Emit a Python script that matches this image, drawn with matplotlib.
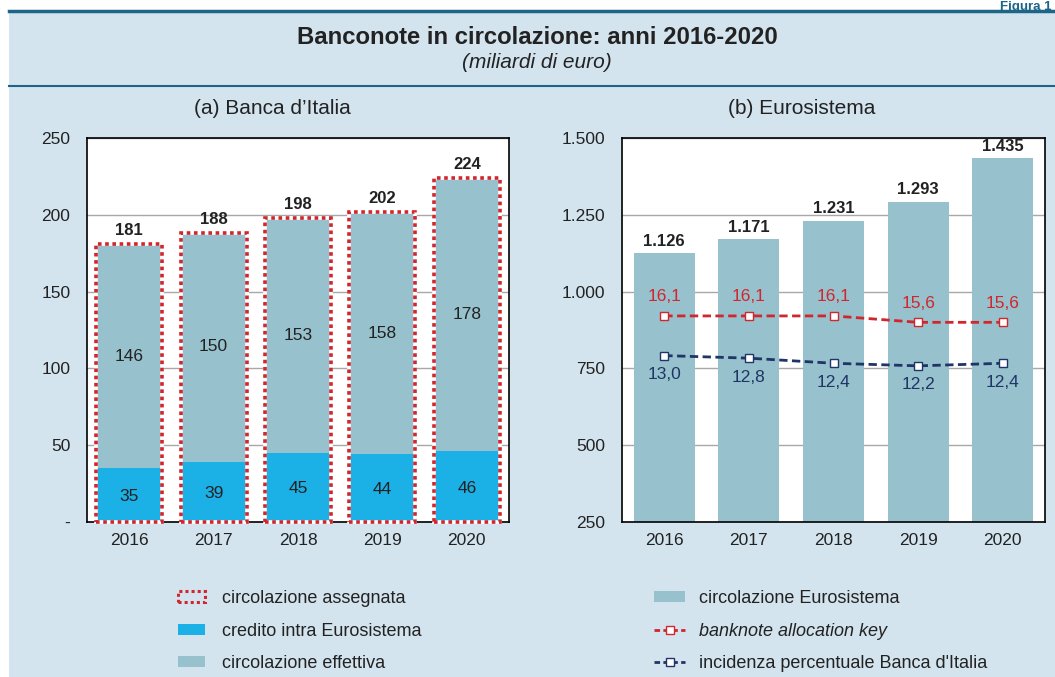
import numpy as np
import matplotlib.pyplot as plt
from matplotlib.patches import Patch, Rectangle
from matplotlib.lines import Line2D

plt.rcParams['font.family'] = ['Liberation Sans', 'DejaVu Sans']

# data
years = ['2016', '2017', '2018', '2019', '2020']
assegnata = [181, 188, 198, 202, 224]
credito = [35, 39, 45, 44, 46]
effettiva = [146, 150, 153, 158, 178]
euro_circ = [1126, 1171, 1231, 1293, 1435]
euro_circ_lbl = ['1.126', '1.171', '1.231', '1.293', '1.435']
alloc_key = [16.1, 16.1, 16.1, 15.6, 15.6]
incidenza = [13.0, 12.8, 12.4, 12.2, 12.4]

# colours
bg = '#d3e4ee'
c_eff = '#97c1cc'
c_cred = '#1bb0e6'
c_red = '#d0262d'
c_navy = '#1f3566'
c_txt = '#222222'
c_rule = '#1d6587'

W, H = 1055, 677
fig = plt.figure(figsize=(W / 100, H / 100), dpi=100, facecolor='white')

# light blue panel and rules
fig.patches.append(Rectangle((9 / W, 0), 1, 1 - 11 / H, transform=fig.transFigure,
                             facecolor=bg, edgecolor='none', zorder=-10))
fig.add_artist(Line2D([9 / W, 1], [1 - 11 / H] * 2, color=c_rule, lw=2.5, zorder=-5))
fig.add_artist(Line2D([9 / W, 1], [1 - 86 / H] * 2, color=c_rule, lw=1.5, zorder=-5))
fig.text(1 - 3 / W, 1 - 1 / H, 'Figura 1', ha='right', va='top', fontsize=9.5,
         fontweight='bold', color=c_rule)

fig.text(537 / W, 1 - 37 / H, 'Banconote in circolazione: anni 2016-2020', ha='center',
         va='center', fontsize=17.2, fontweight='bold', color=c_txt)
fig.text(537 / W, 1 - 63 / H, '(miliardi di euro)', ha='center', va='center',
         fontsize=15, style='italic', color=c_txt)

# panel titles
fig.text(272 / W, 1 - 108 / H, '(a) Banca d\u2019Italia', ha='center', va='center',
         fontsize=15, color=c_txt)
fig.text(802 / W, 1 - 108 / H, '(b) Eurosistema', ha='center', va='center',
         fontsize=15, color=c_txt)

x = np.arange(len(years))

# ---- panel (a)
ax1 = fig.add_axes([87 / W, 1 - 522 / H, 422 / W, 384 / H])
ax1.set_facecolor('white')
bw = 0.78
ax1.bar(x, credito, bw, color=c_cred, zorder=2)
ax1.bar(x, effettiva, bw, bottom=credito, color=c_eff, zorder=2)
ax1.bar(x, assegnata, bw, facecolor='none', edgecolor='white', lw=2.6, zorder=3, clip_on=False)
ax1.bar(x, assegnata, bw, facecolor='none', edgecolor=c_red, lw=2.6, linestyle=(0, (1, 1)),
        zorder=4, clip_on=False)
for i in range(len(years)):
    ax1.text(x[i], assegnata[i] + 4, str(assegnata[i]), ha='center', va='bottom',
             fontsize=12, fontweight='bold', color=c_txt)
    ax1.text(x[i], credito[i] / 2 - 1, str(credito[i]), ha='center', va='center',
             fontsize=12.5, color=c_txt)
    ax1.text(x[i], credito[i] + effettiva[i] / 2, str(effettiva[i]), ha='center',
             va='center', fontsize=12.5, color=c_txt)
ax1.set_ylim(0, 250)
ax1.set_xlim(-0.5, 4.5)
ax1.set_yticks(range(0, 251, 50))
ax1.set_yticklabels(['-', '50', '100', '150', '200', '250'])

# ---- panel (b)
ax2 = fig.add_axes([622 / W, 1 - 522 / H, 423 / W, 384 / H])
ax2.set_facecolor('white')
ax2.bar(x, euro_circ, 0.72, color=c_eff, zorder=2)
for i in range(len(years)):
    ax2.text(x[i], euro_circ[i] + 14, euro_circ_lbl[i], ha='center', va='bottom',
             fontsize=12, fontweight='bold', color=c_txt)
ax2.set_ylim(250, 1500)
ax2.set_xlim(-0.5, 4.5)
ax2.set_yticks(range(250, 1501, 250))
ax2.set_yticklabels(['250', '500', '750', '1.000', '1.250', '1.500'])

ax3 = ax2.twinx()
ax3.set_ylim(0, 30)
ax3.plot(x, alloc_key, color=c_red, lw=2, dashes=(3, 1.6), marker='s', ms=5.5,
         mfc='white', mec=c_red, mew=1)
ax3.plot(x, incidenza, color=c_navy, lw=2, dashes=(3, 1.6), marker='s', ms=5.5,
         mfc='white', mec=c_navy, mew=1)
for i in range(len(years)):
    ax3.text(x[i], alloc_key[i] + 0.9, f'{alloc_key[i]:.1f}'.replace('.', ','),
             ha='center', va='bottom', fontsize=12.5, color=c_red)
    ax3.text(x[i], incidenza[i] - 0.9, f'{incidenza[i]:.1f}'.replace('.', ','),
             ha='center', va='top', fontsize=12.5, color=c_navy)
ax3.set_yticks([])
for s in ax3.spines.values():
    s.set_visible(False)

for ax in (ax1, ax2):
    ax.set_xticks(x)
    ax.set_xticklabels(years)
    ax.yaxis.grid(True, color='#a8a8a8', lw=1)
    ax.set_axisbelow(True)
    ax.tick_params(axis='y', length=0, pad=12, labelsize=12.5, labelcolor=c_txt)
    ax.tick_params(axis='x', direction='in', length=4, pad=8, labelsize=12.5,
                   labelcolor=c_txt)
    for s in ax.spines.values():
        s.set_color('black')
        s.set_linewidth(1.2)
ax2.tick_params(axis='x', length=0)

# legends
h_a = [Patch(facecolor='none', edgecolor=c_red, lw=2.2, linestyle=(0, (1, 1))),
       Patch(facecolor=c_cred, edgecolor='none'),
       Patch(facecolor=c_eff, edgecolor='none')]
l_a = ['circolazione assegnata', 'credito intra Eurosistema', 'circolazione effettiva']
leg1 = fig.legend(h_a, l_a, loc='upper left', bbox_to_anchor=(162 / W, 1 - 574 / H),
                  frameon=False, fontsize=13, labelspacing=0.85, handlelength=1.5,
                  handleheight=0.55, handletextpad=0.95, labelcolor=c_txt)

h_b = [Patch(facecolor=c_eff, edgecolor='none'),
       Line2D([], [], color=c_red, lw=2, dashes=(2, 1.2), marker='s', ms=5.5,
              mfc='white', mec=c_red),
       Line2D([], [], color=c_navy, lw=2, dashes=(2, 1.2), marker='s', ms=5.5,
              mfc='white', mec=c_navy)]
l_b = ['circolazione Eurosistema', 'banknote allocation key',
       "incidenza percentuale Banca d'Italia"]
leg2 = fig.legend(h_b, l_b, loc='upper left', bbox_to_anchor=(638 / W, 1 - 574 / H),
                  frameon=False, fontsize=13, labelspacing=0.85, handlelength=1.7,
                  handleheight=0.55, handletextpad=0.8, labelcolor=c_txt)
leg2.get_texts()[1].set_style('italic')

fig.savefig('out.png', dpi=100, facecolor=fig.get_facecolor())
